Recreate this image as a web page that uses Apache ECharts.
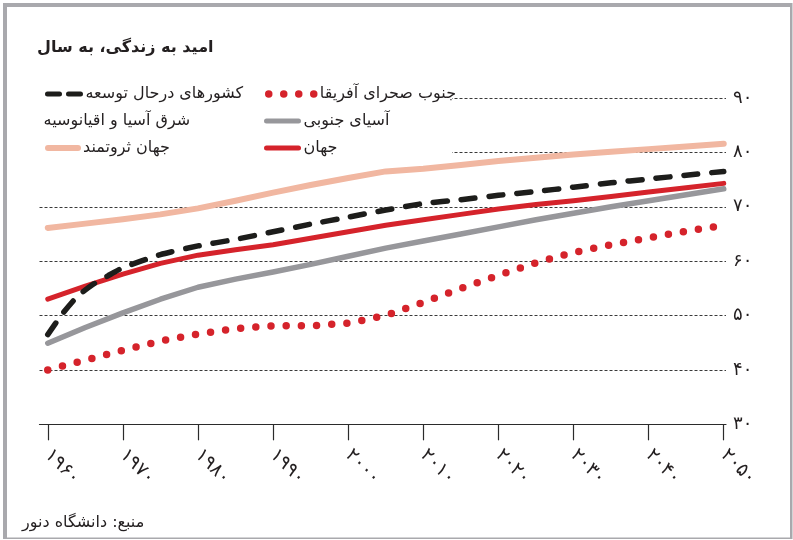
<!DOCTYPE html>
<html><head><meta charset="utf-8">
<script src="https://cdn.jsdelivr.net/npm/echarts@6/dist/echarts.min.js"></script>
<style>html,body{margin:0;padding:0;background:#fff}#c{width:793px;height:540px}</style>
</head><body><div id="c"></div>
<script>
// ---- data ----
const xTickYears = [1960,1970,1980,1990,2000,2010,2020,2030,2040,2050];
const xTickLabels = ['۱۹۶۰','۱۹۷۰','۱۹۸۰','۱۹۹۰','۲۰۰۰','۲۰۱۰','۲۰۲۰','۲۰۳۰','۲۰۴۰','۲۰۵۰'];
const yTickValues = [30,40,50,60,70,80,90];
const yTickLabels = ['۳۰','۴۰','۵۰','۶۰','۷۰','۸۰','۹۰'];

const years5 = [1960,1965,1970,1975,1980,1985,1990,1995,2000,2005,2010,2015,2020,2025,2030,2035,2040,2045,2050];
const richWorld = [66.1,66.9,67.7,68.6,69.7,71.1,72.6,74.0,75.3,76.5,77.0,77.7,78.4,79.0,79.6,80.1,80.6,81.1,81.6];
const southAsia = [44.9,47.8,50.5,53.0,55.2,56.7,58.0,59.4,60.9,62.4,63.7,65.0,66.3,67.6,68.8,70.0,71.1,72.2,73.3];
const world = [53.0,55.4,57.6,59.6,61.1,62.1,63.0,64.2,65.4,66.6,67.6,68.6,69.6,70.4,71.1,71.9,72.7,73.5,74.3];
const subSaharanAfrica = [40.0,41.8,43.6,45.3,46.6,47.6,48.1,48.1,48.6,50.0,52.4,55.0,57.4,59.7,61.6,63.0,64.3,65.5,66.6];
const developingYears = [1960,1962,1964,1966,1968,1970,1975,1980,1985,1990,1995,2000,2005,2010,2015,2020,2025,2030,2035,2040,2045,2050];
const developing = [46.5,50.4,53.6,55.7,57.3,58.8,61.2,62.8,64.0,65.4,66.8,68.1,69.4,70.6,71.3,72.1,72.8,73.6,74.4,75.1,75.8,76.5];

const nDev = 'کشورهای درحال توسعه';
const nAfr = 'جنوب صحرای آفریقا';
const nEast = 'شرق آسیا و اقیانوسیه';
const nSouth = 'آسیای جنوبی';
const nRich = 'جهان ثروتمند';
const nWorld = 'جهان';

const C = {black:'#1d1d1b', red:'#d5232b', gray:'#97979b', pink:'#f1b7a1', text:'#231f20', frame:'#a9a9ad'};
const FF = 'DejaVu Sans';
const pairs = (xs, vs) => xs.map((x,i)=>[x, vs[i]]);

const hiddenSymbol = {color:'rgba(0,0,0,0)', borderWidth:0, opacity:0};
const legendBase = {orient:'horizontal', padding:0, itemGap:0, selectedMode:false, z:10,
  itemHeight:14, textStyle:{fontFamily:FF, fontSize:16, color:C.text}};
function lg(name, left, top, itemWidth, lineStyle){
  return Object.assign({}, legendBase, {left, top, itemWidth,
    data:[{name, lineStyle, itemStyle:hiddenSymbol}]});
}

const chart = echarts.init(document.getElementById('c'), null, {renderer:'canvas'});
chart.setOption({
  animation:false,
  backgroundColor:'#fff',
  title:[
    {text:'امید به زندگی، به سال', left:37, top:40, padding:0,
     textStyle:{fontFamily:FF, fontSize:16, fontWeight:'bold', color:C.text}},
    {text:'منبع: دانشگاه دنور', left:22, top:515, padding:0,
     textStyle:{fontFamily:FF, fontSize:16, fontWeight:'normal', color:C.text}}
  ],
  legend:[
    lg(nDev, 45, 86, 33, {color:C.black, width:5, type:[12,9], cap:'round'}),
    lg(nEast, 33, 113, 0, {width:0, opacity:0}),
    lg(nRich, 45, 140, 30, {color:C.pink, width:6, type:'solid', cap:'round'}),
    lg(nAfr, 265, 86, 46, {color:C.red, width:7.5, type:[0,15], cap:'round'}),
    lg(nSouth, 264, 113, 32, {color:C.gray, width:5, type:'solid', cap:'round'}),
    lg(nWorld, 264, 140, 32, {color:C.red, width:5, type:'solid', cap:'round'})
  ],
  graphic:[
    {type:'rect', z:3, shape:{x:30, y:84, width:422, height:76}, style:{fill:'#fff'}},
    {type:'rect', z:20, shape:{x:3, y:3, width:789, height:4}, style:{fill:C.frame}},
    {type:'rect', z:20, shape:{x:3, y:3, width:4, height:536}, style:{fill:C.frame}},
    {type:'rect', z:20, shape:{x:790, y:3, width:2.5, height:536}, style:{fill:C.frame}},
    {type:'rect', z:20, shape:{x:3, y:537.5, width:789, height:1.5}, style:{fill:C.frame}}
  ],
  grid:{left:39.5, right:67, top:98, height:326.3, containLabel:false},
  xAxis:{
    type:'value', min:1958.9, max:2050.3,
    axisLine:{show:true, lineStyle:{color:'#2b2b2b', width:1.2}},
    axisTick:{show:true, customValues:xTickYears, length:16, lineStyle:{color:'#2b2b2b', width:1.2}},
    axisLabel:{show:true, customValues:xTickYears, rotate:-45, margin:28,
      fontFamily:FF, fontSize:19, color:C.text,
      formatter:(v)=>{const i=xTickYears.indexOf(Math.round(v)); return i>=0?xTickLabels[i]:'';}},
    splitLine:{show:false}
  },
  yAxis:{
    type:'value', position:'right', min:30, max:90, interval:10,
    axisLine:{show:false}, axisTick:{show:false},
    axisLabel:{margin:7, fontFamily:FF, fontSize:18, color:C.text,
      formatter:(v)=>{const i=yTickValues.indexOf(Math.round(v)); return i>=0?yTickLabels[i]:'';}},
    splitLine:{show:true, lineStyle:{color:'#3a3a3a', width:1, type:[3,2]}}
  },
  series:[
    {name:nEast, type:'line', data:[], symbol:'none'},
    {name:nRich, type:'line', data:pairs(years5, richWorld), symbol:'none', z:2,
     lineStyle:{color:C.pink, width:6, cap:'round', join:'round'}, itemStyle:{color:C.pink}},
    {name:nSouth, type:'line', data:pairs(years5, southAsia), symbol:'none', z:3,
     lineStyle:{color:C.gray, width:5.5, cap:'round', join:'round'}, itemStyle:{color:C.gray}},
    {name:nWorld, type:'line', data:pairs(years5, world), symbol:'none', z:4,
     lineStyle:{color:C.red, width:5, cap:'round', join:'round'}, itemStyle:{color:C.red}},
    {name:nAfr, type:'line', data:pairs(years5, subSaharanAfrica), symbol:'none', z:5,
     lineStyle:{color:C.red, width:7.5, type:[0,15.2], cap:'round', join:'round'}, itemStyle:{color:C.red}},
    {name:nDev, type:'line', data:pairs(developingYears, developing), symbol:'none', z:6, smooth:0.2,
     lineStyle:{color:C.black, width:5.5, type:[14,14], cap:'round', join:'round'}, itemStyle:{color:C.black}}
  ]
});
</script>
</body></html>
